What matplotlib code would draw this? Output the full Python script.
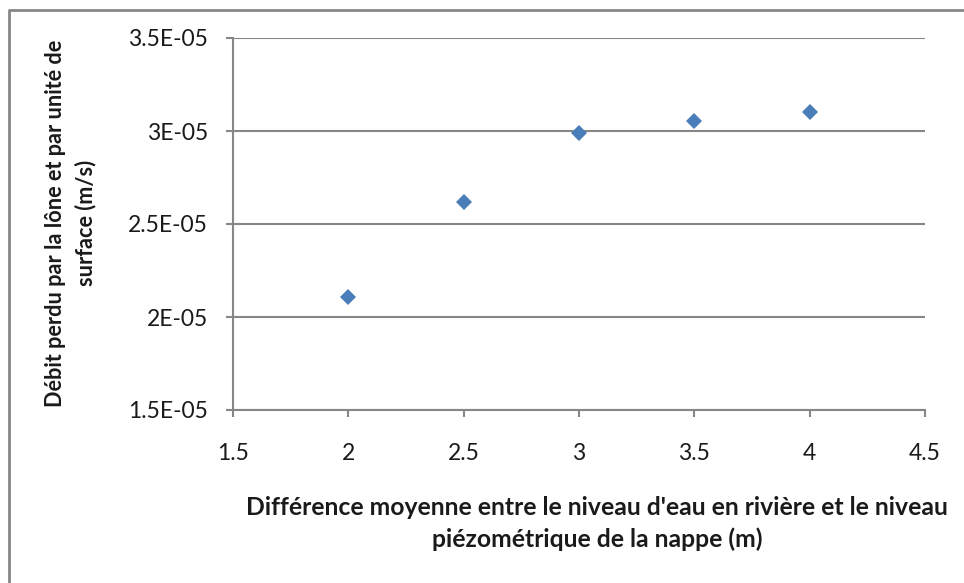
import matplotlib.pyplot as plt
from matplotlib.lines import Line2D
from matplotlib.ticker import FixedLocator

plt.rcParams['font.family'] = ['Lato', 'DejaVu Sans']

# mean head difference river / water table (m) and loss rate per unit area (m/s)
ecart = [2.0, 2.5, 3.0, 3.5, 4.0]
debit = [2.105e-05, 2.617e-05, 2.989e-05, 3.055e-05, 3.102e-05]

x_ticks = [1.5, 2, 2.5, 3, 3.5, 4, 4.5]
x_labels = ['1.5', '2', '2.5', '3', '3.5', '4', '4.5']
y_ticks = [1.5e-05, 2e-05, 2.5e-05, 3e-05, 3.5e-05]
y_labels = ['1.5E-05', '2E-05', '2.5E-05', '3E-05', '3.5E-05']

gris = '#868686'
bleu = '#4A7EBB'

fig = plt.figure(figsize=(9.64, 5.83), dpi=100)
ax = fig.add_axes([233 / 964, 1 - 410 / 583, (925 - 233) / 964, (410 - 38) / 583])

ax.plot(ecart, debit, linestyle='none', marker='D', markersize=7.9,
        color=bleu, markeredgewidth=0, zorder=3, clip_on=False)

ax.set_xlim(1.5, 4.5)
ax.set_ylim(1.5e-05, 3.5e-05)
ax.xaxis.set_major_locator(FixedLocator(x_ticks))
ax.yaxis.set_major_locator(FixedLocator(y_ticks))
ax.set_xticklabels(x_labels)
ax.set_yticklabels(y_labels)

ax.yaxis.grid(True, color=gris, linewidth=1.5)
ax.set_axisbelow(True)
for s in ['top', 'right']:
    ax.spines[s].set_visible(False)
for s in ['left', 'bottom']:
    ax.spines[s].set_color(gris)
    ax.spines[s].set_linewidth(1.5)

ax.tick_params(axis='y', direction='out', length=5, width=1.5, color=gris,
               pad=13, labelsize=16.5, labelcolor='#1a1a1a')
ax.tick_params(axis='x', direction='out', length=5, width=1.5, color=gris,
               pad=19, labelsize=16.5, labelcolor='#1a1a1a')

fig.text(597 / 964, 1 - 523.5 / 583,
         "Différence moyenne entre le niveau d'eau en rivière et le niveau\n"
         "piézométrique de la nappe (m)",
         ha='center', va='center', ma='center', fontsize=17.8, fontweight='bold',
         color='#1a1a1a', linespacing=1.42)
fig.text(71 / 964, 1 - 223 / 583,
         "Débit perdu par la lône et par unité de\nsurface (m/s)",
         ha='center', va='center', ma='center', rotation=90, fontsize=15.6,
         fontweight='bold', color='#1a1a1a', linespacing=1.5)

# chart frame (top and left edges)
fig.add_artist(Line2D([8.5 / 964, 8.5 / 964, 1], [0, 1 - 9.5 / 583, 1 - 9.5 / 583],
                      transform=fig.transFigure, color=gris, linewidth=2))

fig.savefig('out.png', dpi=100, facecolor='white')
